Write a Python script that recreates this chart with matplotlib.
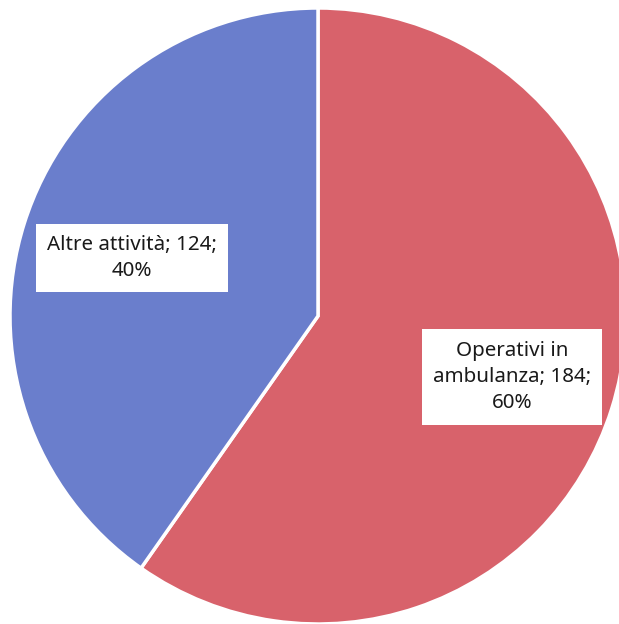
import matplotlib
matplotlib.use("Agg")
import matplotlib.pyplot as plt

categories = ["Operativi in ambulanza", "Altre attività"]
values = [184, 124]
colors = ["#D8626B", "#6A7ECC"]

W, H = 619, 624
fig = plt.figure(figsize=(W / 100, H / 100), dpi=100)
ax = fig.add_axes([0, 0, 1, 1])

cx, cy, r = 318, H - 316, 308
wedges, _ = ax.pie(values, colors=colors, startangle=90, counterclock=False,
                   center=(cx, cy), radius=r, frame=True,
                   wedgeprops=dict(edgecolor="white", linewidth=2.5))
ax.set_xlim(0, W)
ax.set_ylim(0, H)
ax.set_aspect("equal")
ax.axis("off")

total = sum(values)
label_texts = [
    f"Operativi in\nambulanza; {values[0]};\n{round(values[0] / total * 100)}%",
    f"Altre attività; {values[1]};\n{round(values[1] / total * 100)}%",
]
label_pos = [(512, H - 377), (132, H - 258)]
for txt, (x, y) in zip(label_texts, label_pos):
    ax.text(x, y, txt, ha="center", va="center", fontsize=14.8,
            family="Noto Sans", color="#1a1a1a", linespacing=1.42,
            bbox=dict(boxstyle="square,pad=0.55", fc="white", ec="none"))

fig.savefig("out.png", dpi=100)
